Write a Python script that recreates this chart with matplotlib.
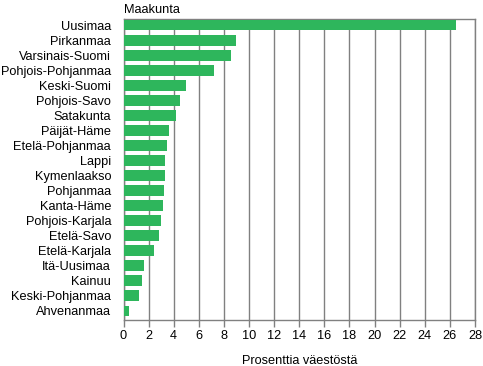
import matplotlib
matplotlib.use('Agg')
import matplotlib.pyplot as plt

regions = ['Uusimaa', 'Pirkanmaa', 'Varsinais-Suomi', 'Pohjois-Pohjanmaa', 'Keski-Suomi',
           'Pohjois-Savo', 'Satakunta', 'Päijät-Häme', 'Etelä-Pohjanmaa', 'Lappi',
           'Kymenlaakso', 'Pohjanmaa', 'Kanta-Häme', 'Pohjois-Karjala', 'Etelä-Savo',
           'Etelä-Karjala', 'Itä-Uusimaa', 'Kainuu', 'Keski-Pohjanmaa', 'Ahvenanmaa']
values = [26.5, 9.0, 8.6, 7.2, 5.0, 4.5, 4.2, 3.6, 3.5, 3.3,
          3.3, 3.2, 3.15, 3.0, 2.85, 2.45, 1.65, 1.5, 1.2, 0.45]
xticks = list(range(0, 29, 2))

plt.rcParams['font.family'] = ['Liberation Sans', 'DejaVu Sans']
plt.rcParams['font.size'] = 9.2

fig = plt.figure(figsize=(4.83, 3.66), dpi=100)
ax = fig.add_axes([0.2557, 0.1257, 0.9834 - 0.2557, 0.948 - 0.1257])

grey = '#808080'
ypos = list(range(len(regions)))
ax.barh(ypos, values, height=0.72, color='#2EB65C', zorder=3)

ax.set_xlim(0, 28)
ax.set_ylim(len(regions) - 0.4, -0.4)
ax.set_xticks(xticks)
ax.set_yticks(ypos)
ax.set_yticklabels(regions)
ax.tick_params(axis='y', length=0, pad=9)
ax.tick_params(axis='x', length=5, color=grey, width=1, pad=2)
ax.grid(axis='x', color=grey, linewidth=1, zorder=0)
for s in ax.spines.values():
    s.set_color(grey)
    s.set_linewidth(1)

ax.text(0, 1.01, 'Maakunta', transform=ax.transAxes, ha='left', va='bottom')
ax.set_xlabel('Prosenttia väestöstä', labelpad=9.5)

fig.savefig('out.png', dpi=100)
